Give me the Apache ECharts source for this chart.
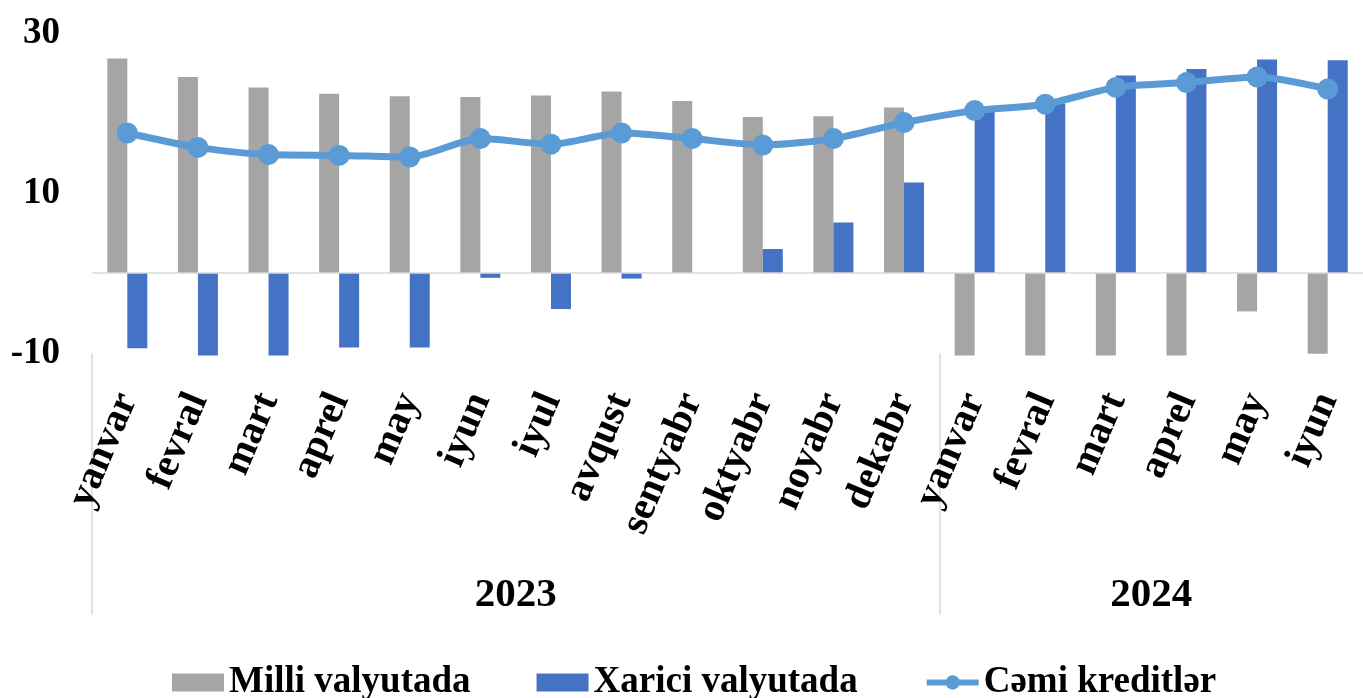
<!DOCTYPE html>
<html>
<head>
<meta charset="utf-8">
<script src="https://cdn.jsdelivr.net/npm/echarts@6/dist/echarts.min.js"></script>
<style>
  html, body { margin: 0; padding: 0; background: #fff; }
  #chart { width: 1363px; height: 698px; }
</style>
</head>
<body>
<div id="chart"></div>
<script>
// months of both years (category axis)
const months = ['yanvar', 'fevral', 'mart', 'aprel', 'may', 'iyun', 'iyul', 'avqust', 'sentyabr', 'oktyabr', 'noyabr', 'dekabr',
    'yanvar', 'fevral', 'mart', 'aprel', 'may', 'iyun'];
const years = ['2023', '2024'];
const yearSizes = [12, 6];

// values (bars below -10 are cut at the axis bottom)
const milli = [26.8, 24.5, 23.2, 22.4, 22.1, 22.0, 22.2, 22.7, 21.5, 19.5, 19.6, 20.7, -10.3, -10.3, -10.3, -10.3, -4.8, -10.1];
const xarici = [-9.4, -10.3, -10.3, -9.3, -9.3, -0.6, -4.5, -0.7, 0, 3.0, 6.3, 11.3, 20.2, 21.2, 24.7, 25.5, 26.7, 26.6];
const cemi = [17.5, 15.7, 14.8, 14.7, 14.5, 16.8, 16.1, 17.5, 16.8, 16.0, 16.8, 18.8, 20.3, 21.1, 23.2, 23.8, 24.5, 23.0];

const seriesNames = ['Milli valyutada', 'Xarici valyutada', 'Cəmi kreditlər'];

// year group boundaries and centres on a 0..18 value scale
let bounds = [0];
let centers = [];
let yearAt = {};
yearSizes.forEach((n, i) => {
    let start = bounds[bounds.length - 1];
    centers.push(start + n / 2);
    yearAt[start + n / 2] = years[i];
    bounds.push(start + n);
});

const font = 'Liberation Serif';
const lineColor = '#5b9bd5';

let chart = echarts.init(document.getElementById('chart'));

let option = {
    animation: false,
    textStyle: {
        fontFamily: font,
        fontWeight: 'bold',
        color: '#000'
    },
    grid: {
        left: 92,
        top: 33,
        width: 1278,
        height: 320
    },
    legend: {
        left: 167,
        top: 659,
        itemWidth: 52,
        itemHeight: 18,
        itemGap: 66,
        textStyle: {
            fontFamily: font,
            fontWeight: 'bold',
            fontSize: 37,
            color: '#000'
        },
        data: [
            { name: seriesNames[0], icon: 'rect' },
            { name: seriesNames[1], icon: 'rect' },
            { name: seriesNames[2], lineStyle: { width: 6 } }
        ]
    },
    xAxis: [
        {
            type: 'category',
            data: months,
            axisLine: { show: false },
            axisTick: { show: false },
            axisLabel: {
                interval: 0,
                rotate: 67,
                margin: 42,
                fontFamily: font,
                fontWeight: 'bold',
                fontSize: 40,
                color: '#000'
            }
        },
        {
            type: 'value',
            position: 'bottom',
            min: 0,
            max: months.length,
            axisLine: { show: false },
            splitLine: { show: false },
            axisTick: {
                show: true,
                customValues: bounds.slice(0, -1),
                length: 262,
                lineStyle: { color: '#d9d9d9', width: 1.5 }
            },
            axisLabel: {
                customValues: centers,
                formatter: (v) => yearAt[v] || '',
                margin: 222,
                fontFamily: font,
                fontWeight: 'bold',
                fontSize: 41,
                color: '#000'
            }
        }
    ],
    yAxis: {
        type: 'value',
        min: -10,
        max: 30,
        interval: 20,
        axisLine: { show: false },
        axisTick: { show: false },
        splitLine: { show: false },
        axisLabel: {
            margin: 32,
            fontFamily: font,
            fontWeight: 'bold',
            fontSize: 37,
            color: '#000'
        }
    },
    series: [
        {
            name: seriesNames[0],
            type: 'bar',
            data: milli,
            barWidth: 20,
            barGap: '0%',
            clip: false,
            itemStyle: { color: '#a5a5a5' },
            markLine: {
                silent: true,
                symbol: 'none',
                label: { show: false },
                lineStyle: { color: '#d9d9d9', width: 1.5, type: 'solid' },
                data: [{ yAxis: 0 }]
            }
        },
        {
            name: seriesNames[1],
            type: 'bar',
            data: xarici,
            barWidth: 20,
            clip: false,
            itemStyle: { color: '#4472c4' }
        },
        {
            name: seriesNames[2],
            type: 'line',
            data: cemi,
            smooth: 0.25,
            symbol: 'circle',
            symbolSize: 21,
            lineStyle: { color: lineColor, width: 7 },
            itemStyle: { color: lineColor },
            emphasis: { disabled: true },
            z: 5
        }
    ]
};

chart.setOption(option);
</script>
</body>
</html>
